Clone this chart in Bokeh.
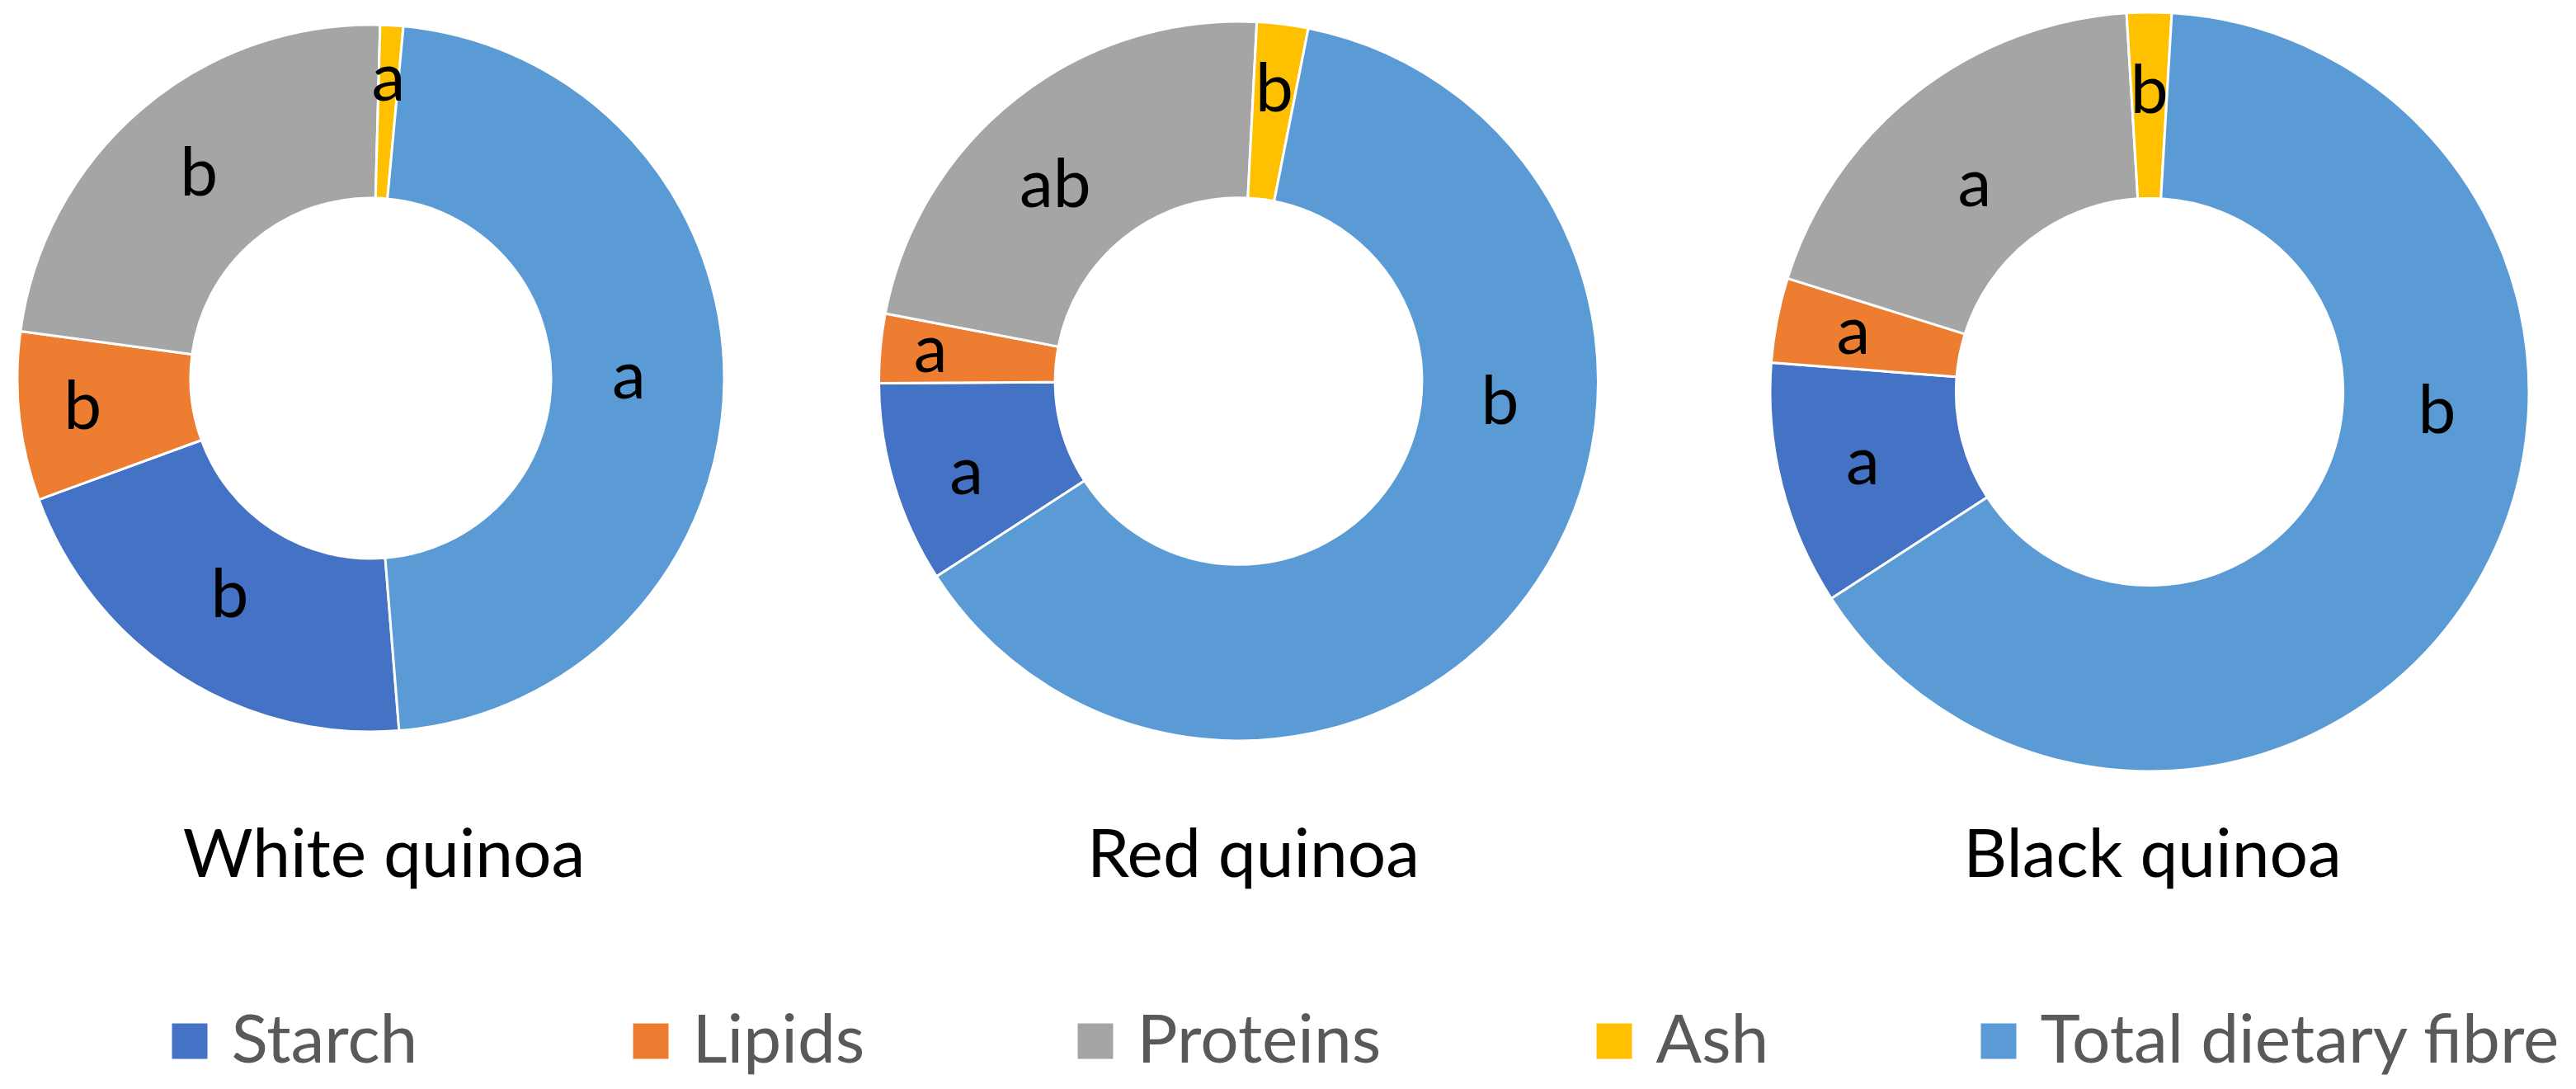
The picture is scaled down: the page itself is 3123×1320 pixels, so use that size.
import math
from bokeh.plotting import figure
from bokeh.models import ColumnDataSource, Range1d
from bokeh.core.properties import value
from bokeh.embed import file_html
from bokeh.resources import INLINE

# ---------------- data ----------------
COMPONENTS = ["Starch", "Lipids", "Proteins", "Ash", "Total dietary fibre"]
VARIETIES = ["White quinoa", "Red quinoa", "Black quinoa"]
WHITE_QUINOA = [20.7, 7.7, 23.3, 1.05, 47.25]   # % of composition
RED_QUINOA = [9.05, 3.1, 22.8, 2.3, 62.75]
BLACK_QUINOA = [10.4, 3.6, 19.2, 1.9, 64.9]
WHITE_LETTERS = ["b", "b", "b", "a", "a"]
RED_LETTERS = ["a", "a", "ab", "b", "b"]
BLACK_LETTERS = ["a", "a", "a", "b", "b"]

SERIES = [WHITE_QUINOA, RED_QUINOA, BLACK_QUINOA]
LETTERS = [WHITE_LETTERS, RED_LETTERS, BLACK_LETTERS]

# ---------------- style / layout ----------------
COLORS = ["#4472C4", "#ED7D31", "#A5A5A5", "#FFC000", "#5B9BD5"]
FONT = "Lato"
W, H = 3123, 1320

CENTERS = [(449, 458), (1501, 461.5), (2605.5, 474.5)]   # page pixels
OUTER_R = [428.5, 436.0, 460.0]
HOLE = 0.51
FIRST_SLICE = [175.4, 237.1, 237.0]   # degrees clockwise from 12 o'clock
LABEL_R = [[0.74, 0.82, 0.75, 0.84, 0.73],
           [0.80, 0.86, 0.74, 0.81, 0.73],
           [0.78, 0.795, 0.71, 0.785, 0.76]]
LABEL_ANGLE_OVERRIDE = [{}, {0: 251.0, 2: 316.5, 4: 95.2}, {2: 319.5, 4: 94.5}]
LABEL_DY = -9          # small vertical nudge of the letters (page px)
LABEL_SIZE = "82px"

TITLE_X = [465, 1519, 2609]
TITLE_MID_Y = 1030
TITLE_SIZE = "82px"

LEGEND_SQ_X = [208, 767, 1306, 1935, 2401]
LEGEND_SQ = 43
LEGEND_BOTTOM = 1283
LEGEND_TEXT_MID_Y = 1255
LEGEND_TEXT_DX = 72
LEGEND_SIZE = "82px"


def fy(page_y):
    return H - page_y


p = figure(width=W, height=H, output_backend="svg", toolbar_location=None,
           x_range=Range1d(0, W), y_range=Range1d(0, H),
           x_axis_location=None, y_axis_location=None, min_border=0)
p.grid.visible = False
p.outline_line_color = None
p.background_fill_color = "white"
p.border_fill_color = "white"

wed = dict(x=[], y=[], ir=[], orr=[], sa=[], ea=[], color=[])
lab = dict(x=[], y=[], text=[])
for k, vals in enumerate(SERIES):
    cx, cy = CENTERS[k]
    R = OUTER_R[k]
    total = float(sum(vals))
    theta = FIRST_SLICE[k]
    for i, v in enumerate(vals):
        span = v / total * 360.0
        t0, t1 = theta, theta + span
        wed["x"].append(cx)
        wed["y"].append(fy(cy))
        wed["ir"].append(R * HOLE)
        wed["orr"].append(R)
        wed["sa"].append(math.radians(90.0 - t0))
        wed["ea"].append(math.radians(90.0 - t1))
        wed["color"].append(COLORS[i])
        mid = LABEL_ANGLE_OVERRIDE[k].get(i, (t0 + t1) / 2.0)
        rr = LABEL_R[k][i] * R
        lab["x"].append(cx + rr * math.sin(math.radians(mid)))
        lab["y"].append(fy(cy - rr * math.cos(math.radians(mid)) + LABEL_DY))
        lab["text"].append(LETTERS[k][i])
        theta = t1

p.annular_wedge(x="x", y="y", inner_radius="ir", outer_radius="orr",
                start_angle="sa", end_angle="ea", direction="clock",
                fill_color="color", line_color="white", line_width=3,
                source=ColumnDataSource(wed))

p.text(x="x", y="y", text="text", source=ColumnDataSource(lab),
       text_font=value(FONT), text_font_size=value(LABEL_SIZE),
       text_color="black", text_align="center", text_baseline="middle")

p.text(x=TITLE_X, y=[fy(TITLE_MID_Y)] * 3, text=VARIETIES,
       text_font=value(FONT), text_font_size=value(TITLE_SIZE),
       text_color="black", text_align="center", text_baseline="middle")

# legend
sq_cx = [x + LEGEND_SQ / 2 for x in LEGEND_SQ_X]
sq_cy = fy(LEGEND_BOTTOM - LEGEND_SQ / 2)
p.rect(x=sq_cx, y=[sq_cy] * 5,
       width=LEGEND_SQ, height=LEGEND_SQ, fill_color=COLORS, line_color=None)
p.text(x=[x + LEGEND_TEXT_DX for x in LEGEND_SQ_X], y=[fy(LEGEND_TEXT_MID_Y)] * 5,
       text=COMPONENTS, text_font=value(FONT), text_font_size=value(LEGEND_SIZE),
       text_color="#595959", text_align="left", text_baseline="middle")

open("out.html", "w").write(file_html(p, INLINE))
